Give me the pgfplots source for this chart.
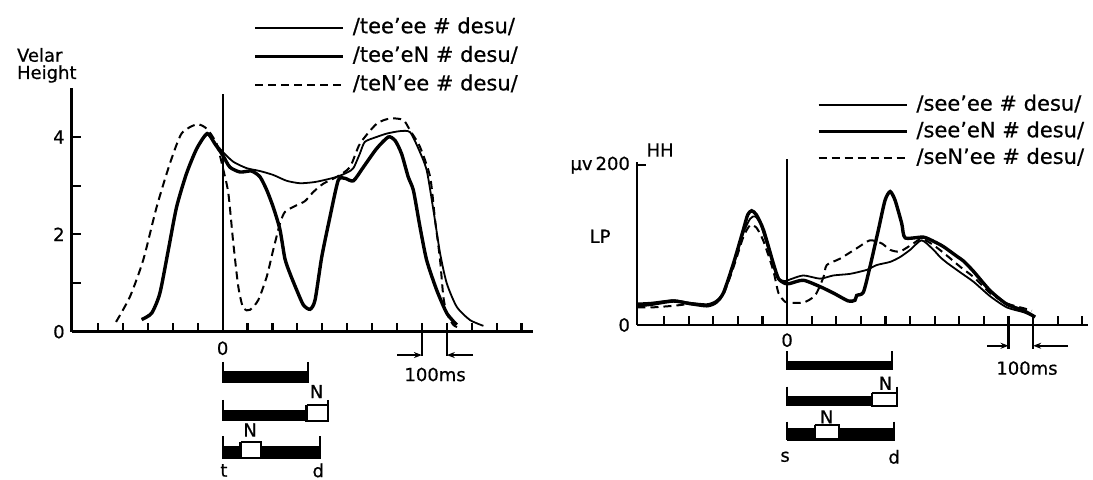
\documentclass[border=0pt]{standalone}
\usepackage{fontspec}
\setmainfont{DejaVu Sans}[FakeBold=0.6]
\usepackage{pgfplots}
\pgfplotsset{compat=1.18}
\usetikzlibrary{arrows.meta}

\pgfplotsset{
  trace/.style={
    scale only axis, clip=false,
    axis x line*=bottom, axis y line*=left,
    axis line style={line width=1.4pt},
    tick align=inside, major tick length=4.5pt,
    tick style={line width=1.1pt, black},
    xtick={-500,-400,...,1200}, xticklabels={},
    ticklabel style={font=\fontsize{9}{10}\selectfont},
    /pgf/number format/assume math mode=true,
    legend cell align=left,
    legend image code/.code={\draw[##1] (0pt,0pt) -- (44pt,0pt);},
    legend style={draw=none, fill=none, anchor=north west,
      font=\fontsize{10.5}{12}\selectfont,
      nodes={inner sep=0pt, text height=8pt, text depth=2.5pt},
      /tikz/every odd column/.style={column sep=4pt}},
  },
  thin/.style={line width=0.9pt, smooth, tension=0.4},
  thick/.style={line width=1.7pt, smooth, tension=0.4},
  dash/.style={line width=1pt, dash pattern=on 4pt off 2.5pt, smooth, tension=0.4},
  bar/.style={fill=black, draw=black, line width=0.3pt, forget plot},
  box/.style={fill=white, draw=black, line width=1.1pt, forget plot},
  tk/.style={line width=1.1pt, forget plot},
  ar/.style={line width=1pt, -{Stealth[length=4pt,width=3pt]}, forget plot},
}

\begin{document}
\begin{tikzpicture}
\path[use as bounding box] (0pt,0pt) rectangle (546.5pt,240pt);

\node[anchor=west, font=\fontsize{9}{10}\selectfont] at (5pt,212.5pt) {Velar};
\node[anchor=west, font=\fontsize{9}{10}\selectfont] at (5pt,203pt) {Height};

% velar height
\begin{axis}[trace, at={(35.85pt,74.15pt)}, anchor=south west,
  width=230.65pt, height=121.7pt,
  xmin=-606, xmax=1246, ymin=0, ymax=5,
  ytick={0,1,2,3,4}, yticklabels={0,,2,,4},
  legend style={at={(0.38,1.31)}, row sep=3.8pt}]
\addplot[thin] coordinates {(-325,0.25) (-285,0.4) (-252,0.8) (-218,1.68) (-185,2.56)
  (-145,3.25) (-104,3.76) (-62,4.05) (-31,3.88) (1,3.69) (43,3.49) (96,3.36) (150,3.3)
  (203,3.22) (257,3.1) (310,3.05) (364,3.07) (404,3.11) (458,3.18) (500,3.27) (525,3.36)
  (551,3.66) (571,3.9) (618,4.0) (659,4.07) (712,4.12) (752,4.1) (786,3.76) (819,3.32)
  (846,2.5) (873,1.61) (900,0.99) (940,0.51) (993,0.24) (1047,0.12)};
\addplot[thick] coordinates {(-325,0.25) (-285,0.38) (-252,0.79) (-218,1.68) (-185,2.56)
  (-145,3.25) (-104,3.76) (-62,4.07) (-31,3.86) (1,3.62) (29,3.38) (70,3.28) (116,3.3)
  (150,3.18) (177,2.91) (203,2.56) (230,2.1) (250,1.5) (270,1.2) (297,0.86) (324,0.55)
  (351,0.46) (371,0.65) (398,1.54) (431,2.36) (464,3.11) (491,3.15) (525,3.1) (565,3.38)
  (618,3.76) (665,4.0) (692,3.93) (718,3.66) (745,3.18) (766,2.9) (792,2.16) (819,1.47)
  (859,0.86) (900,0.38) (940,0.14)};
\addplot[dash] coordinates {(-428,0.2) (-372,0.72) (-319,1.47) (-265,2.56) (-212,3.45)
  (-165,4.07) (-104,4.26) (-64,4.17) (-24,3.86) (3,3.32) (23,2.84) (43,1.81) (63,0.92)
  (83,0.48) (110,0.45) (143,0.65) (177,1.13) (203,1.68) (230,2.22) (250,2.46) (290,2.58)
  (330,2.68) (364,2.87) (404,3.04) (458,3.18) (511,3.38) (551,3.86) (618,4.27) (672,4.38)
  (725,4.35) (752,4.14) (792,3.8) (833,3.18) (853,2.29) (873,1.47) (886,0.72) (900,0.38)
  (926,0.14) (953,0.07)};
\legend{/tee’ee \# desu/, /tee’eN \# desu/, /teN’ee \# desu/}
\addplot[tk] coordinates {(0,0) (0,4.88)};
% 100 ms marker
\addplot[tk] coordinates {(800,0) (800,-0.5)};
\addplot[tk] coordinates {(900,0) (900,-0.5)};
\addplot[ar] coordinates {(700,-0.48) (800,-0.48)};
\addplot[ar] coordinates {(1006,-0.48) (900,-0.48)};
\node[font=\fontsize{9}{10}\selectfont] at (axis cs:853,-0.88) {100ms};
\node[font=\fontsize{9}{10}\selectfont] at (axis cs:0,-0.34) {0};
% segment bars
\addplot[bar] coordinates {(0,-0.82) (343,-0.82) (343,-1.03) (0,-1.03) (0,-0.82)};
\addplot[tk] coordinates {(0,-0.62) (0,-1.03)};
\addplot[tk] coordinates {(343,-0.62) (343,-1.03)};
\addplot[bar] coordinates {(0,-1.61) (337,-1.61) (337,-1.83) (0,-1.83) (0,-1.61)};
\addplot[box] coordinates {(337,-1.50) (422,-1.50) (422,-1.83) (337,-1.83) (337,-1.50)};
\addplot[tk] coordinates {(0,-1.40) (0,-1.83)};
\addplot[tk] coordinates {(422,-1.40) (422,-1.50)};
\node[font=\fontsize{9}{10}\selectfont] at (axis cs:377,-1.23) {N};
\addplot[bar] coordinates {(0,-2.36) (391,-2.36) (391,-2.60) (0,-2.60) (0,-2.36)};
\addplot[box] coordinates {(72,-2.26) (155,-2.26) (155,-2.60) (72,-2.60) (72,-2.26)};
\addplot[tk] coordinates {(0,-2.15) (0,-2.60)};
\addplot[tk] coordinates {(391,-2.15) (391,-2.60)};
\node[font=\fontsize{9}{10}\selectfont] at (axis cs:110,-2.02) {N};
\node[font=\fontsize{9}{10}\selectfont] at (axis cs:5,-2.85) {t};
\node[font=\fontsize{9}{10}\selectfont] at (axis cs:384,-2.85) {d};
\end{axis}

% HH electromyography
\begin{axis}[trace, at={(318.5pt,77.5pt)}, anchor=south west,
  width=225.5pt, height=81.5pt,
  xmin=-610, xmax=1223, ymin=0, ymax=204,
  ytick={0,200}, yticklabels={0,µv\,200},
  legend style={at={(0.385,1.44)}, row sep=2.8pt}]
\addplot[thin] coordinates {(-608,27) (-550,28) (-462,31) (-400,28) (-326,26) (-290,30)
  (-259,40) (-218,75) (-178,115) (-150,133) (-130,136) (-110,128) (-96,115) (-56,75)
  (-35,58) (-8,55) (12,57) (66,62) (134,58) (188,62) (256,64) (324,69) (364,75) (419,79)
  (459,85) (500,94) (547,106) (595,94) (622,85) (649,78) (703,66) (758,54) (825,36)
  (893,22) (961,16) (1008,10)};
\addplot[thick] coordinates {(-608,24) (-550,26) (-462,30) (-400,27) (-326,24) (-290,28)
  (-259,40) (-218,77) (-178,119) (-160,138) (-144,143) (-125,138) (-96,119) (-56,77)
  (-35,58) (-8,52) (12,52) (66,56) (134,48) (188,40) (249,30) (276,31) (283,37) (310,41)
  (337,73) (371,119) (398,156) (419,167) (439,156) (466,127) (480,109) (554,110) (600,104)
  (636,98) (690,86) (717,80) (758,67) (825,43) (893,26) (961,18) (1008,10)};
\addplot[dash] coordinates {(-608,22) (-550,22) (-462,24) (-400,26) (-326,25) (-290,28)
  (-259,38) (-218,72) (-178,110) (-150,125) (-125,122) (-96,105) (-56,68) (-35,40) (-8,29)
  (12,28) (66,28) (114,37) (148,60) (161,75) (215,83) (283,96) (337,106) (385,102)
  (419,94) (459,92) (513,102) (547,108) (595,100) (649,87) (703,73) (758,60) (825,40)
  (893,27) (961,21) (995,18)};
\legend{/see’ee \# desu/, /see’eN \# desu/, /seN’ee \# desu/}
\addplot[tk] coordinates {(0,0) (0,208)};
\addplot[tk] coordinates {(900,0) (900,-30)};
\addplot[tk] coordinates {(1000,0) (1000,-30)};
\addplot[ar] coordinates {(813,-26) (900,-26)};
\addplot[ar] coordinates {(1142,-26) (1000,-26)};
\node[font=\fontsize{9}{10}\selectfont] at (axis cs:975,-54) {100ms};
\node[font=\fontsize{9}{10}\selectfont] at (axis cs:0,-19) {0};
\node[font=\fontsize{9}{10}\selectfont] at (axis cs:-516,219) {HH};
\node[font=\fontsize{9}{10}\selectfont] at (axis cs:-760,111) {LP};
\addplot[bar] coordinates {(0,-46) (427,-46) (427,-56) (0,-56) (0,-46)};
\addplot[tk] coordinates {(0,-33) (0,-56)};
\addplot[tk] coordinates {(427,-33) (427,-56)};
\addplot[bar] coordinates {(0,-89) (344,-89) (344,-101) (0,-101) (0,-89)};
\addplot[box] coordinates {(344,-85) (448,-85) (448,-101) (344,-101) (344,-85)};
\addplot[tk] coordinates {(0,-77) (0,-101)};
\addplot[tk] coordinates {(448,-77) (448,-85)};
\node[font=\fontsize{9}{10}\selectfont] at (axis cs:400,-73) {N};
\addplot[bar] coordinates {(0,-129) (435,-129) (435,-144) (0,-144) (0,-129)};
\addplot[box] coordinates {(112,-125) (210,-125) (210,-143) (112,-143) (112,-125)};
\addplot[tk] coordinates {(0,-121) (0,-144)};
\addplot[tk] coordinates {(435,-121) (435,-144)};
\node[font=\fontsize{9}{10}\selectfont] at (axis cs:161,-115) {N};
\node[font=\fontsize{9}{10}\selectfont] at (axis cs:-8,-165) {s};
\node[font=\fontsize{9}{10}\selectfont] at (axis cs:435,-165) {d};
\end{axis}
\end{tikzpicture}
\end{document}
